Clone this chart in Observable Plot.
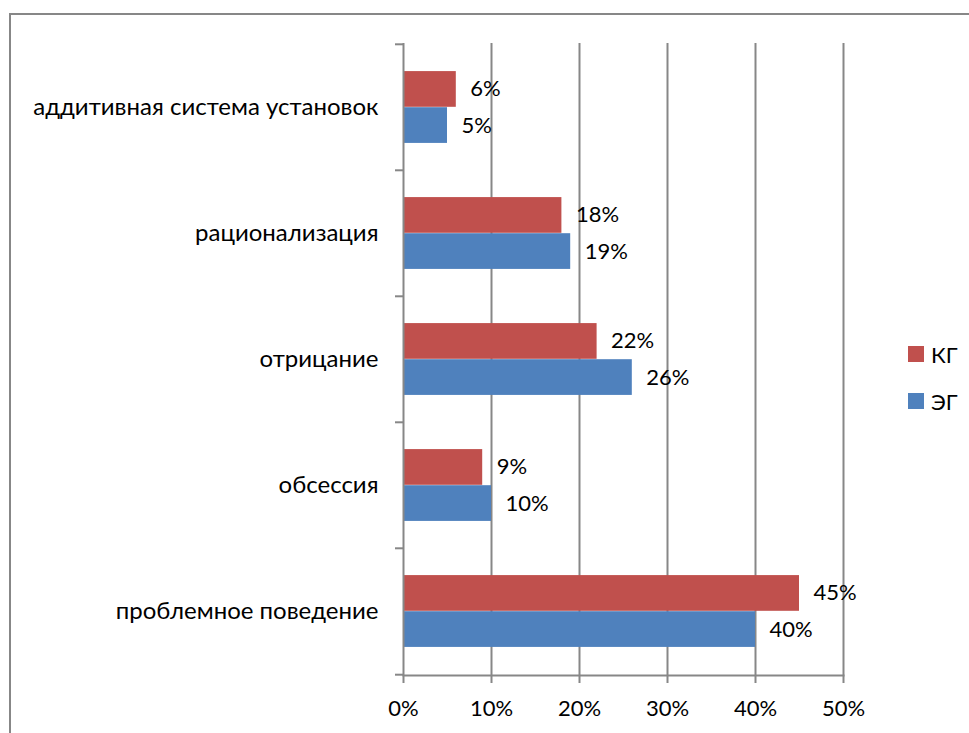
<!DOCTYPE html>
<html>
<head>
<meta charset="utf-8">
<script src="https://cdn.jsdelivr.net/npm/d3@7"></script>
<script src="https://cdn.jsdelivr.net/npm/@observablehq/plot@0.6"></script>
<style>
  html, body { margin: 0; padding: 0; background: #fff; overflow: hidden; }
  #wrap { position: relative; width: 969px; height: 733px; overflow: hidden; }
  #border { position: absolute; left: 9px; top: 13px; width: 1000px; height: 800px;
            border-left: 2px solid #878787; border-top: 2px solid #878787; pointer-events: none; }
  #chart { position: absolute; left: 0; top: 0; }
  #legend { position: absolute; left: 908px; top: 343px; font-family: Lato, "Open Sans", sans-serif;
            font-size: 22px; color: #000; }
  .item { display: flex; align-items: center; height: 22px; margin-bottom: 25px; }
  .sw { width: 16px; height: 16px; margin-right: 7px; }
</style>
</head>
<body>
<div id="wrap">
  <div id="chart"></div>
  <div id="border"></div>
  <div id="legend"></div>
</div>
<script>
// Categories, top to bottom
const categories = [
  "аддитивная система установок",
  "рационализация",
  "отрицание",
  "обсессия",
  "проблемное поведение"
];
// Series: control group (КГ) and experimental group (ЭГ)
const seriesNames = ["КГ", "ЭГ"];
const kgValues = [0.06, 0.18, 0.22, 0.09, 0.45];
const egValues = [0.05, 0.19, 0.26, 0.10, 0.40];
const xTicks = [0, 0.1, 0.2, 0.3, 0.4, 0.5];
const colors = ["#C0504D", "#4F81BD"];

const rows = categories.flatMap((c, i) => [
  {category: c, group: seriesNames[0], value: kgValues[i]},
  {category: c, group: seriesNames[1], value: egValues[i]}
]);
const kg = rows.filter(d => d.group === "КГ");
const eg = rows.filter(d => d.group === "ЭГ");

const W = 969, H = 733;
const mL = 403, mR = 126, mT = 43, mB = 58;
const step = (H - mT - mB) / categories.length;  // band height per category
const barH = step / 3.5;                          // each bar's thickness
const gap = barH * 0.75;                          // space above/below the pair
const pct = d3.format(".0%");
const grey = "#878787";
const font = "Lato, 'Open Sans', sans-serif";

const chart = Plot.plot({
  width: W,
  height: H,
  marginLeft: mL,
  marginRight: mR,
  marginTop: mT,
  marginBottom: mB,
  style: {fontFamily: font, fontSize: "22px", color: "#000", background: "transparent"},
  x: {domain: [0, 0.5]},
  y: {domain: categories, padding: 0},
  color: {domain: seriesNames, range: colors},
  marks: [
    Plot.gridX(xTicks.slice(1), {stroke: grey, strokeOpacity: 1, strokeWidth: 2}),
    Plot.barX(kg, {x: "value", y: "category", fill: "group", insetTop: gap, insetBottom: step / 2}),
    Plot.barX(eg, {x: "value", y: "category", fill: "group", insetTop: step / 2, insetBottom: gap}),
    Plot.text(kg, {x: "value", y: "category", text: d => pct(d.value), dy: -barH / 2,
                   dx: 14, textAnchor: "start", fill: "#000", fontSize: 22}),
    Plot.text(eg, {x: "value", y: "category", text: d => pct(d.value), dy: barH / 2,
                   dx: 14, textAnchor: "start", fill: "#000", fontSize: 22}),
    Plot.ruleX([0], {stroke: grey, strokeWidth: 2}),
    // category labels
    Plot.axisY({tickSize: 0, tickPadding: 25, fill: "#000", fontSize: 24, label: null}),
    // boundary tick marks between categories
    Plot.axisY({tickSize: 8, tickFormat: () => "", dy: -step / 2, stroke: grey, strokeWidth: 2, label: null}),
    Plot.axisY({ticks: categories.slice(-1), tickSize: 8, tickFormat: () => "", dy: step / 2,
                stroke: grey, strokeWidth: 2, label: null}),
    Plot.frame({anchor: "bottom", stroke: grey, strokeWidth: 2}),
    Plot.axisX({ticks: xTicks, tickFormat: pct, tickSize: 8, tickPadding: 17,
                stroke: grey, strokeWidth: 2, fill: "#000", fontSize: 22, label: null})
  ]
});
document.getElementById("chart").appendChild(chart);

// legend
const legend = d3.select("#legend");
seriesNames.forEach((name, i) => {
  const item = legend.append("div").attr("class", "item");
  item.append("div").attr("class", "sw").style("background", colors[i]);
  item.append("span").text(name);
});
</script>
</body>
</html>
